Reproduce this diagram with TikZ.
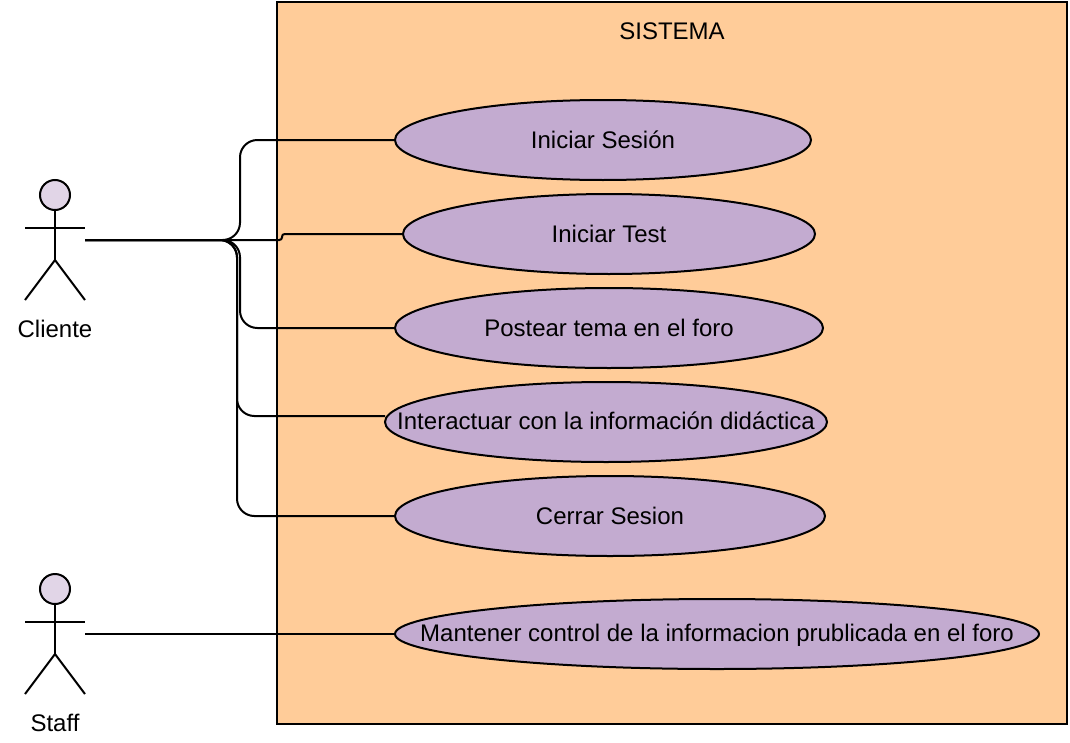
\documentclass[tikz,border=0pt]{standalone}
\usepackage{fontspec}
\setmainfont{Liberation Sans}
\usepackage{xcolor}
\usetikzlibrary{shapes.geometric}
\definecolor{sysfill}{HTML}{FFCC99}
\definecolor{casefill}{HTML}{C3ABD0}
\definecolor{headfill}{HTML}{E1D5E7}

\begin{document}
\begin{tikzpicture}[
  x=0.75pt, y=-0.75pt,
  line width=1.5pt,
  every node/.style={font=\fontsize{18}{22}\selectfont},
  usecase/.style={draw, ellipse, fill=casefill, inner sep=0pt, minimum height=60pt},
  head/.style={draw, circle, fill=headfill, minimum size=22.5pt, inner sep=0pt},
  link/.style={rounded corners=13pt}
]
\useasboundingbox (0,0) rectangle (1070,742);

\node[draw, fill=sysfill, minimum width=592.5pt, minimum height=541.5pt, inner sep=0pt] (sistema) at (672,363) {};
\node (sistemaTxt) at (672,31) {SISTEMA};

\node[usecase, minimum width=312pt] (sesion) at (603,140) {\makebox[0pt]{Iniciar Sesión}};
\node[usecase, minimum width=309pt] (test) at (609,234) {\makebox[0pt]{Iniciar Test}};
\node[usecase, minimum width=321pt] (foro) at (609,328) {\makebox[0pt]{Postear tema en el foro}};
\node[usecase, minimum width=331.5pt] (info) at (606,422) {\makebox[0pt]{\raisebox{-5.5pt}[0pt][0pt]{Interactuar con la información didáctica}}};
\node[usecase, minimum width=322.5pt] (cerrar) at (610,516) {\makebox[0pt]{Cerrar Sesion}};
\node[usecase, minimum width=483pt, minimum height=52.5pt] (control) at (717,634) {\makebox[0pt]{\raisebox{-5.8pt}[0pt][0pt]{Mantener control de la informacion prublicada en el foro}}};

% actors
\foreach \who/\txt/\ytop in {cliente/Cliente/180, staff/Staff/574} {
  \node[head] (\who Head) at (55,\ytop+15) {};
  \coordinate (\who Hip) at (55,\ytop+80);
  \coordinate (\who Arm) at (25,\ytop+48);
  \coordinate (\who Hand) at (85,\ytop+48);
  \coordinate (\who Foot) at (25,\ytop+120);
  \coordinate (\who Toe) at (85,\ytop+120);
  \coordinate (\who) at (85,\ytop+60);
  \node (\who Txt) at (55,\ytop+149) {\txt};
  \draw (\who Head) -- (\who Hip);
  \draw (\who Arm) -- (\who Hand);
  \draw (\who Foot) -- (\who Hip) -- (\who Toe);
}

\coordinate (busA) at (240,240);
\coordinate (busB) at (237,240);
\coordinate (stepTest) at (282,240);
\coordinate (infoEnd) at (385,416);

\draw[link] (cliente) -- (busA) |- (sesion.west);
\draw[rounded corners=2pt] (cliente) -- (stepTest) |- (test.west);
\draw[link] (cliente) -- (busA) |- (foro.west);
\draw[link] (cliente) -- (busB) |- (infoEnd);
\draw[link] (cliente) -- (busB) |- (cerrar.west);
\draw (staff) -- (control.west);
\end{tikzpicture}
\end{document}
